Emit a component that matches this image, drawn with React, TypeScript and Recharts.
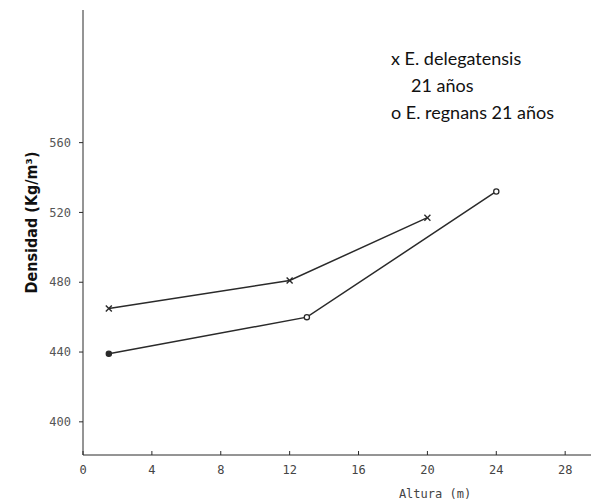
import { CartesianGrid, Line, LineChart, XAxis, YAxis } from "recharts";

const delegatensisAltura = [1.5, 12, 20];
const delegatensisDensidad = [465, 481, 517];
const regnansAltura = [1.5, 13, 24];
const regnansDensidad = [439, 460, 532];
const xTicks = [0, 4, 8, 12, 16, 20, 24, 28];
const yTicks = [400, 440, 480, 520, 560];

const delegatensis = delegatensisAltura.map((x, i) => ({ x, y: delegatensisDensidad[i] }));
const regnans = regnansAltura.map((x, i) => ({ x, y: regnansDensidad[i] }));

const ink = "#2a2a2a";
const mono = "'DejaVu Sans Mono', monospace";

function CrossDot(props: any) {
  const { cx, cy } = props;
  if (cx == null || cy == null) return null;
  const s = 3;
  return (
    <g stroke={ink} strokeWidth={1.4}>
      <line x1={cx - s} y1={cy - s} x2={cx + s} y2={cy + s} />
      <line x1={cx - s} y1={cy + s} x2={cx + s} y2={cy - s} />
    </g>
  );
}

function CircleDot(props: any) {
  const { cx, cy, index } = props;
  if (cx == null || cy == null) return null;
  return (
    <circle
      cx={cx}
      cy={cy}
      r={2.6}
      fill={index === 0 ? ink : "#fff"}
      stroke={ink}
      strokeWidth={1.3}
    />
  );
}

export default function App() {
  return (
    <div style={{ position: "relative", width: 591, height: 502, background: "#fff" }}>
      <style>{"body{margin:0}"}</style>
      <LineChart
        width={591}
        height={502}
        margin={{ top: 10, right: 0, left: 0, bottom: 0 }}
      >
        <CartesianGrid stroke="none" />
        <XAxis
          type="number"
          dataKey="x"
          domain={[0, 29.5]}
          ticks={xTicks}
          allowDataOverflow
          height={47}
          stroke={ink}
          tickSize={4}
          tickMargin={6}
          tick={{ fontSize: 12, fill: "#444", fontFamily: mono }}
          tickLine={{ stroke: ink, transform: "translate(0,-4)" }}
          label={{
            value: "Altura (m)",
            position: "insideBottom",
            offset: 4,
            dx: 98,
            style: { fontSize: 12, fill: "#444", fontFamily: mono },
          }}
        />
        <YAxis
          type="number"
          dataKey="y"
          domain={[381, 636]}
          ticks={yTicks}
          allowDataOverflow
          width={83}
          stroke={ink}
          tickSize={4}
          tickMargin={8}
          tick={{ fontSize: 12, fill: "#555", fontFamily: mono }}
          label={{
            value: "Densidad (Kg/m³)",
            angle: -90,
            position: "insideLeft",
            offset: 31,
            dy: -10,
            style: {
              fontSize: 16,
              fontWeight: "bold",
              fill: "#111",
              fontFamily: "'DejaVu Sans Condensed', 'Liberation Sans Narrow', sans-serif",
              textAnchor: "middle",
            },
          }}
        />
        <Line
          data={delegatensis}
          dataKey="y"
          name="E. delegatensis 21 años"
          stroke={ink}
          strokeWidth={1.5}
          dot={<CrossDot />}
          activeDot={false}
          isAnimationActive={false}
        />
        <Line
          data={regnans}
          dataKey="y"
          name="E. regnans 21 años"
          stroke={ink}
          strokeWidth={1.5}
          dot={<CircleDot />}
          activeDot={false}
          isAnimationActive={false}
        />
      </LineChart>
      <div
        style={{
          position: "absolute",
          left: 391,
          top: 45,
          fontFamily: "Lato, 'Open Sans', sans-serif",
          fontSize: 18,
          lineHeight: "27px",
          color: "#111",
          whiteSpace: "pre",
        }}
      >
        <div>x E. delegatensis</div>
        <div style={{ paddingLeft: 20 }}>21 años</div>
        <div>o E. regnans 21 años</div>
      </div>
    </div>
  );
}
